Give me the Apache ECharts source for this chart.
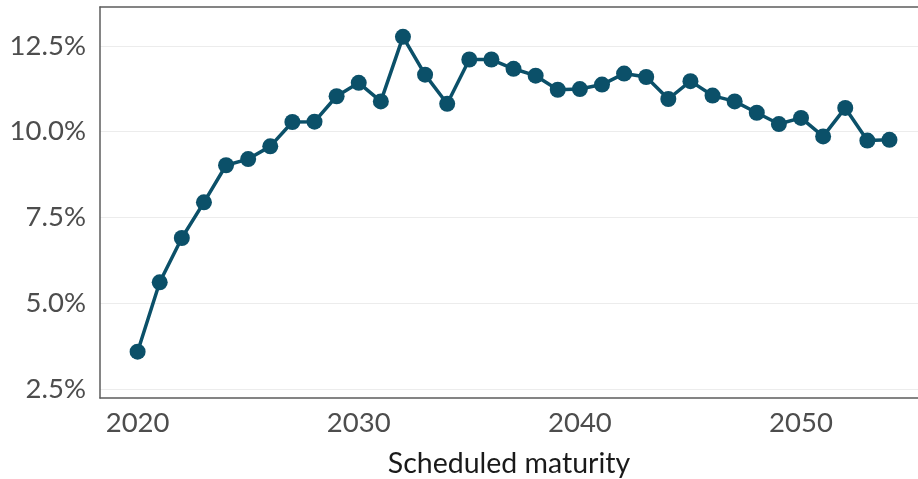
<!DOCTYPE html>
<html>
<head>
<meta charset="utf-8">
<script src="https://cdn.jsdelivr.net/npm/echarts@6/dist/echarts.min.js"></script>
<style>
html,body{margin:0;padding:0;background:#fff;}
#chart{width:918px;height:479px;}
</style>
</head>
<body>
<div id="chart"></div>
<script>
const years = [2020,2021,2022,2023,2024,2025,2026,2027,2028,2029,2030,2031,2032,2033,2034,2035,2036,2037,2038,2039,2040,2041,2042,2043,2044,2045,2046,2047,2048,2049,2050,2051,2052,2053,2054];
const rates = [3.59,5.61,6.90,7.94,9.02,9.20,9.57,10.28,10.29,11.03,11.42,10.88,12.76,11.66,10.81,12.10,12.10,11.83,11.63,11.22,11.24,11.37,11.69,11.59,10.95,11.47,11.05,10.88,10.55,10.22,10.40,9.86,10.69,9.74,9.76];
const xTicks = [2020,2030,2040,2050];
const yTicks = [2.5,5.0,7.5,10.0,12.5];

const chart = echarts.init(document.getElementById('chart'), null, {renderer:'canvas'});
const font = 'Lato, "Noto Sans", sans-serif';
const axisLineStyle = {color:'#5c5c5c', width:1.5};
chart.setOption({
  animation:false,
  backgroundColor:'#fff',
  grid:{left:100, right:0, top:7, bottom:81, containLabel:false, outerBoundsMode:'none'},
  xAxis:[{
    type:'value', min:2018.3, max:2055.29,
    axisLine:{show:true, lineStyle:axisLineStyle, onZero:false},
    axisTick:{show:false, customValues:xTicks},
    axisLabel:{customValues:xTicks, fontFamily:font, fontSize:27.5, color:'#4d4d4d', margin:11, formatter:v=>String(v)},
    splitLine:{show:false},
    name:'Scheduled maturity', nameLocation:'middle', nameGap:51,
    nameTextStyle:{fontFamily:font, fontSize:28.5, color:'#1a1a1a'}
  },{
    type:'value', position:'top', min:2018.3, max:2055.29,
    axisLine:{show:true, lineStyle:axisLineStyle, onZero:false},
    axisTick:{show:false}, axisLabel:{show:false}, splitLine:{show:false}
  }],
  yAxis:{
    type:'value', min:2.24, max:13.63,
    axisLine:{show:true, lineStyle:axisLineStyle, onZero:false},
    axisTick:{show:false, customValues:yTicks},
    axisLabel:{customValues:yTicks, fontFamily:font, fontSize:27.5, color:'#4d4d4d', margin:14, formatter:v=>v.toFixed(1)+'%'},
    splitLine:{show:true, lineStyle:{color:'#ececec', width:1}}
  },
  series:[{
    type:'line', xAxisIndex:0,
    data:years.map((y,i)=>[y, rates[i]]),
    symbol:'circle', symbolSize:16,
    lineStyle:{color:'#0b5069', width:3.5},
    itemStyle:{color:'#0b5069'}
  }]
});
</script>
</body>
</html>
